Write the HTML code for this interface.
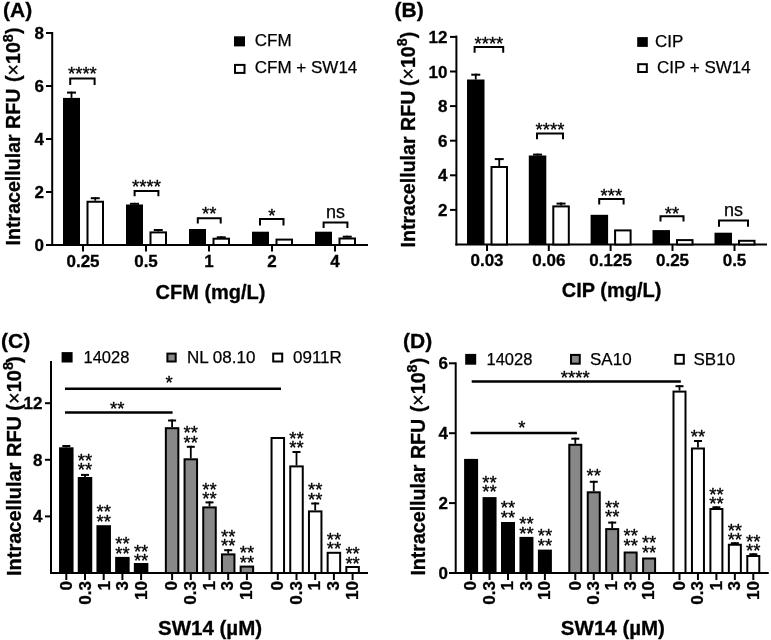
<!DOCTYPE html><html><head><meta charset="utf-8"><style>html,body{margin:0;padding:0;background:#fff;}svg{display:block;will-change:transform;}text[font-weight=bold]{stroke:#000;stroke-width:0.3px;}text[font-weight=normal]{stroke:#000;stroke-width:0.25px;}text.st{stroke:#000;stroke-width:0.35px;stroke-linejoin:round;}text{font-family:"Liberation Sans",sans-serif;fill:#000;}</style></head><body>
<svg width="771" height="640" viewBox="0 0 771 640">
<rect width="771" height="640" fill="#fff"/>
<text x="3.00" y="17.00" font-size="21" font-weight="bold" text-anchor="start" >(A)</text>
<line x1="52.20" y1="32.00" x2="52.20" y2="246.00" stroke="#000" stroke-width="2"/>
<line x1="51.20" y1="245.00" x2="368.00" y2="245.00" stroke="#000" stroke-width="2"/>
<line x1="46.00" y1="245.00" x2="52.20" y2="245.00" stroke="#000" stroke-width="2"/>
<text x="44.00" y="251.00" font-size="17" font-weight="bold" text-anchor="end" >0</text>
<line x1="46.00" y1="192.00" x2="52.20" y2="192.00" stroke="#000" stroke-width="2"/>
<text x="44.00" y="198.00" font-size="17" font-weight="bold" text-anchor="end" >2</text>
<line x1="46.00" y1="139.00" x2="52.20" y2="139.00" stroke="#000" stroke-width="2"/>
<text x="44.00" y="145.00" font-size="17" font-weight="bold" text-anchor="end" >4</text>
<line x1="46.00" y1="86.00" x2="52.20" y2="86.00" stroke="#000" stroke-width="2"/>
<text x="44.00" y="92.00" font-size="17" font-weight="bold" text-anchor="end" >6</text>
<line x1="46.00" y1="33.00" x2="52.20" y2="33.00" stroke="#000" stroke-width="2"/>
<text x="44.00" y="39.00" font-size="17" font-weight="bold" text-anchor="end" >8</text>
<rect x="63.00" y="97.90" width="17.00" height="147.10" fill="#000"/>
<line x1="71.50" y1="97.90" x2="71.50" y2="91.60" stroke="#000" stroke-width="1.8"/>
<line x1="67.00" y1="92.60" x2="76.00" y2="92.60" stroke="#000" stroke-width="2"/>
<rect x="87.50" y="201.75" width="15.50" height="43.25" fill="#fff" stroke="#000" stroke-width="2"/>
<line x1="95.25" y1="200.75" x2="95.25" y2="197.20" stroke="#000" stroke-width="1.8"/>
<line x1="90.75" y1="198.20" x2="99.75" y2="198.20" stroke="#000" stroke-width="2"/>
<line x1="83.00" y1="245.00" x2="83.00" y2="251.50" stroke="#000" stroke-width="2"/>
<text x="83.00" y="266.50" font-size="17" font-weight="bold" text-anchor="middle" >0.25</text>
<rect x="126.00" y="204.50" width="17.00" height="40.50" fill="#000"/>
<line x1="134.50" y1="204.50" x2="134.50" y2="202.80" stroke="#000" stroke-width="1.8"/>
<line x1="130.00" y1="203.80" x2="139.00" y2="203.80" stroke="#000" stroke-width="2"/>
<rect x="150.50" y="232.40" width="15.50" height="12.60" fill="#fff" stroke="#000" stroke-width="2"/>
<line x1="158.25" y1="231.40" x2="158.25" y2="229.00" stroke="#000" stroke-width="1.8"/>
<line x1="153.75" y1="230.00" x2="162.75" y2="230.00" stroke="#000" stroke-width="2"/>
<line x1="146.00" y1="245.00" x2="146.00" y2="251.50" stroke="#000" stroke-width="2"/>
<text x="146.00" y="266.50" font-size="17" font-weight="bold" text-anchor="middle" >0.5</text>
<rect x="189.00" y="229.00" width="17.00" height="16.00" fill="#000"/>
<rect x="213.50" y="238.70" width="15.50" height="6.30" fill="#fff" stroke="#000" stroke-width="2"/>
<line x1="221.25" y1="237.70" x2="221.25" y2="236.30" stroke="#000" stroke-width="1.8"/>
<line x1="216.75" y1="237.30" x2="225.75" y2="237.30" stroke="#000" stroke-width="2"/>
<line x1="209.00" y1="245.00" x2="209.00" y2="251.50" stroke="#000" stroke-width="2"/>
<text x="209.00" y="266.50" font-size="17" font-weight="bold" text-anchor="middle" >1</text>
<rect x="252.00" y="231.70" width="17.00" height="13.30" fill="#000"/>
<rect x="276.50" y="239.60" width="15.50" height="5.40" fill="#fff" stroke="#000" stroke-width="2"/>
<line x1="272.00" y1="245.00" x2="272.00" y2="251.50" stroke="#000" stroke-width="2"/>
<text x="272.00" y="266.50" font-size="17" font-weight="bold" text-anchor="middle" >2</text>
<rect x="315.00" y="231.70" width="17.00" height="13.30" fill="#000"/>
<rect x="339.50" y="238.50" width="15.50" height="6.50" fill="#fff" stroke="#000" stroke-width="2"/>
<line x1="347.25" y1="237.50" x2="347.25" y2="235.70" stroke="#000" stroke-width="1.8"/>
<line x1="342.75" y1="236.70" x2="351.75" y2="236.70" stroke="#000" stroke-width="2"/>
<line x1="335.00" y1="245.00" x2="335.00" y2="251.50" stroke="#000" stroke-width="2"/>
<text x="335.00" y="266.50" font-size="17" font-weight="bold" text-anchor="middle" >4</text>
<path d="M70.20 84.90V78.60H94.60V84.90" fill="none" stroke="#000" stroke-width="2"/>
<text x="82.40" y="80.10" font-size="18.5" font-weight="normal" text-anchor="middle"  class="st">****</text>
<path d="M134.60 196.30V191.00H158.40V196.30" fill="none" stroke="#000" stroke-width="2"/>
<text x="146.50" y="193.00" font-size="18.5" font-weight="normal" text-anchor="middle"  class="st">****</text>
<path d="M197.80 223.60V218.20H220.70V223.60" fill="none" stroke="#000" stroke-width="2"/>
<text x="209.25" y="219.70" font-size="18.5" font-weight="normal" text-anchor="middle"  class="st">**</text>
<path d="M260.00 225.40V219.00H283.50V225.40" fill="none" stroke="#000" stroke-width="2"/>
<text x="271.75" y="222.40" font-size="18.5" font-weight="normal" text-anchor="middle"  class="st">*</text>
<path d="M323.60 228.00V222.40H347.40V228.00" fill="none" stroke="#000" stroke-width="2"/>
<text x="335.50" y="217.60" font-size="18" font-weight="normal" text-anchor="middle" >ns</text>
<text x="210.50" y="299.00" font-size="20" font-weight="bold" text-anchor="middle" >CFM (mg/L)</text>
<text transform="translate(20.00,245.40) rotate(-90)" font-size="19.6" font-weight="bold">Intracellular RFU<tspan dx="1.2"> (</tspan><tspan font-weight="normal">×</tspan>10<tspan font-size="14.5" dx="0" dy="-7.5">8</tspan><tspan dx="0" dy="7.5">)</tspan></text>
<rect x="234.00" y="36.30" width="11.00" height="10.10" fill="#000"/>
<rect x="235" y="64.9" width="9.5" height="8" fill="#fff" stroke="#000" stroke-width="2"/>
<text x="254.80" y="46.00" font-size="17" font-weight="normal" text-anchor="start" >CFM</text>
<text x="254.80" y="73.00" font-size="17" font-weight="normal" text-anchor="start" >CFM + SW14</text>
<text x="394.50" y="17.00" font-size="21" font-weight="bold" text-anchor="start" >(B)</text>
<line x1="456.40" y1="35.60" x2="456.40" y2="245.50" stroke="#000" stroke-width="2"/>
<line x1="455.40" y1="244.50" x2="767.00" y2="244.50" stroke="#000" stroke-width="2"/>
<line x1="450.00" y1="209.90" x2="456.40" y2="209.90" stroke="#000" stroke-width="2"/>
<text x="447.50" y="215.90" font-size="17" font-weight="bold" text-anchor="end" >2</text>
<line x1="450.00" y1="175.30" x2="456.40" y2="175.30" stroke="#000" stroke-width="2"/>
<text x="447.50" y="181.30" font-size="17" font-weight="bold" text-anchor="end" >4</text>
<line x1="450.00" y1="140.70" x2="456.40" y2="140.70" stroke="#000" stroke-width="2"/>
<text x="447.50" y="146.70" font-size="17" font-weight="bold" text-anchor="end" >6</text>
<line x1="450.00" y1="106.10" x2="456.40" y2="106.10" stroke="#000" stroke-width="2"/>
<text x="447.50" y="112.10" font-size="17" font-weight="bold" text-anchor="end" >8</text>
<line x1="450.00" y1="71.50" x2="456.40" y2="71.50" stroke="#000" stroke-width="2"/>
<text x="447.50" y="77.50" font-size="17" font-weight="bold" text-anchor="end" >10</text>
<line x1="450.00" y1="36.90" x2="456.40" y2="36.90" stroke="#000" stroke-width="2"/>
<text x="447.50" y="42.90" font-size="17" font-weight="bold" text-anchor="end" >12</text>
<rect x="467.00" y="79.50" width="17.50" height="165.00" fill="#000"/>
<line x1="475.75" y1="79.50" x2="475.75" y2="73.70" stroke="#000" stroke-width="1.8"/>
<line x1="471.25" y1="74.70" x2="480.25" y2="74.70" stroke="#000" stroke-width="2"/>
<rect x="491.50" y="167.00" width="15.50" height="77.50" fill="#fff" stroke="#000" stroke-width="2"/>
<line x1="499.25" y1="166.00" x2="499.25" y2="158.10" stroke="#000" stroke-width="1.8"/>
<line x1="494.75" y1="159.10" x2="503.75" y2="159.10" stroke="#000" stroke-width="2"/>
<line x1="487.00" y1="244.50" x2="487.00" y2="251.00" stroke="#000" stroke-width="2"/>
<text x="487.00" y="266.00" font-size="17" font-weight="bold" text-anchor="middle" >0.03</text>
<rect x="528.80" y="155.50" width="17.50" height="89.00" fill="#000"/>
<line x1="537.55" y1="155.50" x2="537.55" y2="153.60" stroke="#000" stroke-width="1.8"/>
<line x1="533.05" y1="154.60" x2="542.05" y2="154.60" stroke="#000" stroke-width="2"/>
<rect x="553.30" y="206.40" width="15.50" height="38.10" fill="#fff" stroke="#000" stroke-width="2"/>
<line x1="561.05" y1="205.40" x2="561.05" y2="202.60" stroke="#000" stroke-width="1.8"/>
<line x1="556.55" y1="203.60" x2="565.55" y2="203.60" stroke="#000" stroke-width="2"/>
<line x1="548.80" y1="244.50" x2="548.80" y2="251.00" stroke="#000" stroke-width="2"/>
<text x="548.80" y="266.00" font-size="17" font-weight="bold" text-anchor="middle" >0.06</text>
<rect x="590.60" y="214.80" width="17.50" height="29.70" fill="#000"/>
<rect x="615.10" y="230.40" width="15.50" height="14.10" fill="#fff" stroke="#000" stroke-width="2"/>
<line x1="610.60" y1="244.50" x2="610.60" y2="251.00" stroke="#000" stroke-width="2"/>
<text x="610.60" y="266.00" font-size="17" font-weight="bold" text-anchor="middle" >0.125</text>
<rect x="652.50" y="230.10" width="17.50" height="14.40" fill="#000"/>
<rect x="677.00" y="240.10" width="15.50" height="4.40" fill="#fff" stroke="#000" stroke-width="2"/>
<line x1="672.50" y1="244.50" x2="672.50" y2="251.00" stroke="#000" stroke-width="2"/>
<text x="672.50" y="266.00" font-size="17" font-weight="bold" text-anchor="middle" >0.25</text>
<rect x="714.50" y="232.70" width="17.50" height="11.80" fill="#000"/>
<rect x="739.00" y="240.80" width="15.50" height="3.70" fill="#fff" stroke="#000" stroke-width="2"/>
<line x1="734.50" y1="244.50" x2="734.50" y2="251.00" stroke="#000" stroke-width="2"/>
<text x="734.50" y="266.00" font-size="17" font-weight="bold" text-anchor="middle" >0.5</text>
<path d="M474.60 52.70V47.00H503.20V52.70" fill="none" stroke="#000" stroke-width="2"/>
<text x="488.90" y="50.40" font-size="18.5" font-weight="normal" text-anchor="middle"  class="st">****</text>
<path d="M537.00 139.20V133.40H563.00V139.20" fill="none" stroke="#000" stroke-width="2"/>
<text x="550.00" y="136.30" font-size="18.5" font-weight="normal" text-anchor="middle"  class="st">****</text>
<path d="M599.20 204.60V198.90H623.60V204.60" fill="none" stroke="#000" stroke-width="2"/>
<text x="611.40" y="201.80" font-size="18.5" font-weight="normal" text-anchor="middle"  class="st">***</text>
<path d="M660.50 221.60V216.30H683.50V221.60" fill="none" stroke="#000" stroke-width="2"/>
<text x="672.00" y="219.90" font-size="18.5" font-weight="normal" text-anchor="middle"  class="st">**</text>
<path d="M719.00 226.70V220.40H748.00V226.70" fill="none" stroke="#000" stroke-width="2"/>
<text x="733.50" y="215.80" font-size="18" font-weight="normal" text-anchor="middle" >ns</text>
<text x="611.60" y="297.00" font-size="20" font-weight="bold" text-anchor="middle" >CIP (mg/L)</text>
<text transform="translate(414.50,247.50) rotate(-90)" font-size="19.6" font-weight="bold">Intracellular RFU<tspan dx="-0.8"> (</tspan><tspan font-weight="normal">×</tspan>10<tspan font-size="14.5" dx="0" dy="-7.5">8</tspan><tspan dx="0" dy="7.5">)</tspan></text>
<rect x="637.20" y="37.10" width="10.60" height="9.80" fill="#000"/>
<rect x="638.2" y="64.2" width="8.6" height="7.8" fill="#fff" stroke="#000" stroke-width="2"/>
<text x="655.00" y="46.50" font-size="17" font-weight="normal" text-anchor="start" >CIP</text>
<text x="657.00" y="73.00" font-size="17" font-weight="normal" text-anchor="start" >CIP + SW14</text>
<text x="1.00" y="348.00" font-size="21" font-weight="bold" text-anchor="start" >(C)</text>
<line x1="51.00" y1="361.00" x2="51.00" y2="574.00" stroke="#000" stroke-width="2"/>
<line x1="50.00" y1="573.00" x2="368.00" y2="573.00" stroke="#000" stroke-width="2"/>
<line x1="45.00" y1="516.40" x2="51.00" y2="516.40" stroke="#000" stroke-width="2"/>
<text x="42.50" y="522.40" font-size="17" font-weight="bold" text-anchor="end" >4</text>
<line x1="45.00" y1="459.80" x2="51.00" y2="459.80" stroke="#000" stroke-width="2"/>
<text x="42.50" y="465.80" font-size="17" font-weight="bold" text-anchor="end" >8</text>
<line x1="45.00" y1="403.20" x2="51.00" y2="403.20" stroke="#000" stroke-width="2"/>
<text x="42.50" y="409.20" font-size="17" font-weight="bold" text-anchor="end" >12</text>
<rect x="59.05" y="447.30" width="14.50" height="125.70" fill="#000"/>
<line x1="66.30" y1="447.30" x2="66.30" y2="445.00" stroke="#000" stroke-width="1.8"/>
<line x1="62.30" y1="446.00" x2="70.30" y2="446.00" stroke="#000" stroke-width="2"/>
<line x1="66.30" y1="573.00" x2="66.30" y2="580.00" stroke="#000" stroke-width="2"/>
<text transform="translate(72.30,581.00) rotate(-90)" font-size="17" font-weight="bold" text-anchor="end">0</text>
<rect x="77.75" y="477.00" width="14.50" height="96.00" fill="#000"/>
<line x1="85.00" y1="477.00" x2="85.00" y2="473.90" stroke="#000" stroke-width="1.8"/>
<line x1="81.00" y1="474.90" x2="89.00" y2="474.90" stroke="#000" stroke-width="2"/>
<line x1="85.00" y1="573.00" x2="85.00" y2="580.00" stroke="#000" stroke-width="2"/>
<text transform="translate(91.00,581.00) rotate(-90)" font-size="17" font-weight="bold" text-anchor="end">0.3</text>
<text x="85.00" y="476.20" font-size="18.5" font-weight="normal" text-anchor="middle"  class="st">**</text>
<text x="85.00" y="466.70" font-size="18.5" font-weight="normal" text-anchor="middle"  class="st">**</text>
<rect x="96.45" y="525.20" width="14.50" height="47.80" fill="#000"/>
<line x1="103.70" y1="573.00" x2="103.70" y2="580.00" stroke="#000" stroke-width="2"/>
<text transform="translate(109.70,581.00) rotate(-90)" font-size="17" font-weight="bold" text-anchor="end">1</text>
<text x="103.70" y="527.80" font-size="18.5" font-weight="normal" text-anchor="middle"  class="st">**</text>
<text x="103.70" y="518.30" font-size="18.5" font-weight="normal" text-anchor="middle"  class="st">**</text>
<rect x="115.15" y="556.90" width="14.50" height="16.10" fill="#000"/>
<line x1="122.40" y1="573.00" x2="122.40" y2="580.00" stroke="#000" stroke-width="2"/>
<text transform="translate(128.40,581.00) rotate(-90)" font-size="17" font-weight="bold" text-anchor="end">3</text>
<text x="122.40" y="559.90" font-size="18.5" font-weight="normal" text-anchor="middle"  class="st">**</text>
<text x="122.40" y="550.40" font-size="18.5" font-weight="normal" text-anchor="middle"  class="st">**</text>
<rect x="133.85" y="563.00" width="14.50" height="10.00" fill="#000"/>
<line x1="141.10" y1="573.00" x2="141.10" y2="580.00" stroke="#000" stroke-width="2"/>
<text transform="translate(147.10,581.00) rotate(-90)" font-size="17" font-weight="bold" text-anchor="end">10</text>
<text x="141.10" y="567.15" font-size="18.5" font-weight="normal" text-anchor="middle"  class="st">**</text>
<text x="141.10" y="557.65" font-size="18.5" font-weight="normal" text-anchor="middle"  class="st">**</text>
<rect x="165.85" y="428.20" width="12.50" height="144.80" fill="#888" stroke="#000" stroke-width="2"/>
<line x1="172.10" y1="427.20" x2="172.10" y2="419.50" stroke="#000" stroke-width="1.8"/>
<line x1="168.10" y1="420.50" x2="176.10" y2="420.50" stroke="#000" stroke-width="2"/>
<line x1="172.10" y1="573.00" x2="172.10" y2="580.00" stroke="#000" stroke-width="2"/>
<text transform="translate(177.30,581.00) rotate(-90)" font-size="17" font-weight="bold" text-anchor="end">0</text>
<rect x="184.55" y="459.30" width="12.50" height="113.70" fill="#888" stroke="#000" stroke-width="2"/>
<line x1="190.80" y1="458.30" x2="190.80" y2="445.80" stroke="#000" stroke-width="1.8"/>
<line x1="186.80" y1="446.80" x2="194.80" y2="446.80" stroke="#000" stroke-width="2"/>
<line x1="190.80" y1="573.00" x2="190.80" y2="580.00" stroke="#000" stroke-width="2"/>
<text transform="translate(196.00,581.00) rotate(-90)" font-size="17" font-weight="bold" text-anchor="end">0.3</text>
<text x="190.80" y="448.90" font-size="18.5" font-weight="normal" text-anchor="middle"  class="st">**</text>
<text x="190.80" y="439.40" font-size="18.5" font-weight="normal" text-anchor="middle"  class="st">**</text>
<rect x="203.25" y="507.40" width="12.50" height="65.60" fill="#888" stroke="#000" stroke-width="2"/>
<line x1="209.50" y1="506.40" x2="209.50" y2="501.40" stroke="#000" stroke-width="1.8"/>
<line x1="205.50" y1="502.40" x2="213.50" y2="502.40" stroke="#000" stroke-width="2"/>
<line x1="209.50" y1="573.00" x2="209.50" y2="580.00" stroke="#000" stroke-width="2"/>
<text transform="translate(214.70,581.00) rotate(-90)" font-size="17" font-weight="bold" text-anchor="end">1</text>
<text x="209.50" y="505.30" font-size="18.5" font-weight="normal" text-anchor="middle"  class="st">**</text>
<text x="209.50" y="495.80" font-size="18.5" font-weight="normal" text-anchor="middle"  class="st">**</text>
<rect x="221.95" y="554.40" width="12.50" height="18.60" fill="#888" stroke="#000" stroke-width="2"/>
<line x1="228.20" y1="553.40" x2="228.20" y2="549.20" stroke="#000" stroke-width="1.8"/>
<line x1="224.20" y1="550.20" x2="232.20" y2="550.20" stroke="#000" stroke-width="2"/>
<line x1="228.20" y1="573.00" x2="228.20" y2="580.00" stroke="#000" stroke-width="2"/>
<text transform="translate(233.40,581.00) rotate(-90)" font-size="17" font-weight="bold" text-anchor="end">3</text>
<text x="228.20" y="552.40" font-size="18.5" font-weight="normal" text-anchor="middle"  class="st">**</text>
<text x="228.20" y="542.90" font-size="18.5" font-weight="normal" text-anchor="middle"  class="st">**</text>
<rect x="240.65" y="566.60" width="12.50" height="6.40" fill="#888" stroke="#000" stroke-width="2"/>
<line x1="246.90" y1="573.00" x2="246.90" y2="580.00" stroke="#000" stroke-width="2"/>
<text transform="translate(252.10,581.00) rotate(-90)" font-size="17" font-weight="bold" text-anchor="end">10</text>
<text x="246.90" y="568.90" font-size="18.5" font-weight="normal" text-anchor="middle"  class="st">**</text>
<text x="246.90" y="559.40" font-size="18.5" font-weight="normal" text-anchor="middle"  class="st">**</text>
<rect x="271.55" y="438.00" width="12.50" height="135.00" fill="#fff" stroke="#000" stroke-width="2"/>
<line x1="277.80" y1="573.00" x2="277.80" y2="580.00" stroke="#000" stroke-width="2"/>
<text transform="translate(283.00,581.00) rotate(-90)" font-size="17" font-weight="bold" text-anchor="end">0</text>
<rect x="290.25" y="466.40" width="12.50" height="106.60" fill="#fff" stroke="#000" stroke-width="2"/>
<line x1="296.50" y1="465.40" x2="296.50" y2="451.00" stroke="#000" stroke-width="1.8"/>
<line x1="292.50" y1="452.00" x2="300.50" y2="452.00" stroke="#000" stroke-width="2"/>
<line x1="296.50" y1="573.00" x2="296.50" y2="580.00" stroke="#000" stroke-width="2"/>
<text transform="translate(301.70,581.00) rotate(-90)" font-size="17" font-weight="bold" text-anchor="end">0.3</text>
<text x="296.50" y="454.00" font-size="18.5" font-weight="normal" text-anchor="middle"  class="st">**</text>
<text x="296.50" y="444.50" font-size="18.5" font-weight="normal" text-anchor="middle"  class="st">**</text>
<rect x="308.95" y="511.40" width="12.50" height="61.60" fill="#fff" stroke="#000" stroke-width="2"/>
<line x1="315.20" y1="510.40" x2="315.20" y2="502.50" stroke="#000" stroke-width="1.8"/>
<line x1="311.20" y1="503.50" x2="319.20" y2="503.50" stroke="#000" stroke-width="2"/>
<line x1="315.20" y1="573.00" x2="315.20" y2="580.00" stroke="#000" stroke-width="2"/>
<text transform="translate(320.40,581.00) rotate(-90)" font-size="17" font-weight="bold" text-anchor="end">1</text>
<text x="315.20" y="505.60" font-size="18.5" font-weight="normal" text-anchor="middle"  class="st">**</text>
<text x="315.20" y="496.10" font-size="18.5" font-weight="normal" text-anchor="middle"  class="st">**</text>
<rect x="327.65" y="552.80" width="12.50" height="20.20" fill="#fff" stroke="#000" stroke-width="2"/>
<line x1="333.90" y1="573.00" x2="333.90" y2="580.00" stroke="#000" stroke-width="2"/>
<text transform="translate(339.10,581.00) rotate(-90)" font-size="17" font-weight="bold" text-anchor="end">3</text>
<text x="333.90" y="555.10" font-size="18.5" font-weight="normal" text-anchor="middle"  class="st">**</text>
<text x="333.90" y="545.60" font-size="18.5" font-weight="normal" text-anchor="middle"  class="st">**</text>
<rect x="346.35" y="567.00" width="12.50" height="6.00" fill="#fff" stroke="#000" stroke-width="2"/>
<line x1="352.60" y1="573.00" x2="352.60" y2="580.00" stroke="#000" stroke-width="2"/>
<text transform="translate(357.80,581.00) rotate(-90)" font-size="17" font-weight="bold" text-anchor="end">10</text>
<text x="352.60" y="569.70" font-size="18.5" font-weight="normal" text-anchor="middle"  class="st">**</text>
<text x="352.60" y="560.20" font-size="18.5" font-weight="normal" text-anchor="middle"  class="st">**</text>
<line x1="65.00" y1="388.70" x2="281.00" y2="388.70" stroke="#000" stroke-width="2.5"/>
<text x="169.00" y="389.20" font-size="18.5" font-weight="normal" text-anchor="middle"  class="st">*</text>
<line x1="65.00" y1="412.50" x2="172.60" y2="412.50" stroke="#000" stroke-width="2.5"/>
<text x="117.30" y="414.90" font-size="18.5" font-weight="normal" text-anchor="middle"  class="st">**</text>
<rect x="61.60" y="352.10" width="11.00" height="10.40" fill="#000"/>
<rect x="167.40" y="353.60" width="8.30" height="7.90" fill="#888" stroke="#000" stroke-width="2"/>
<rect x="273.20" y="353.60" width="9.00" height="7.90" fill="#fff" stroke="#000" stroke-width="2"/>
<text x="83.50" y="363.00" font-size="16.5" font-weight="normal" text-anchor="start" >14028</text>
<text x="187.00" y="363.00" font-size="17" font-weight="normal" text-anchor="start" >NL 08.10</text>
<text x="293.00" y="363.00" font-size="17" font-weight="normal" text-anchor="start" >0911R</text>
<text x="210.00" y="634.60" font-size="20.5" font-weight="bold" text-anchor="middle" >SW14 (µM)</text>
<text transform="translate(20.50,576.00) rotate(-90)" font-size="20" font-weight="bold">Intracellular RFU<tspan dx="-0.3"> (</tspan><tspan font-weight="normal">×</tspan>10<tspan font-size="14.5" dx="0" dy="-7.5">8</tspan><tspan dx="-1" dy="7.5">)</tspan></text>
<text x="403.00" y="348.00" font-size="21" font-weight="bold" text-anchor="start" >(D)</text>
<line x1="455.70" y1="362.30" x2="455.70" y2="574.00" stroke="#000" stroke-width="2"/>
<line x1="454.70" y1="573.00" x2="768.75" y2="573.00" stroke="#000" stroke-width="2"/>
<line x1="449.00" y1="573.00" x2="455.70" y2="573.00" stroke="#000" stroke-width="2"/>
<text x="448.00" y="579.00" font-size="17" font-weight="bold" text-anchor="end" >0</text>
<line x1="449.00" y1="503.10" x2="455.70" y2="503.10" stroke="#000" stroke-width="2"/>
<text x="448.00" y="509.10" font-size="17" font-weight="bold" text-anchor="end" >2</text>
<line x1="449.00" y1="433.20" x2="455.70" y2="433.20" stroke="#000" stroke-width="2"/>
<text x="448.00" y="439.20" font-size="17" font-weight="bold" text-anchor="end" >4</text>
<line x1="449.00" y1="363.30" x2="455.70" y2="363.30" stroke="#000" stroke-width="2"/>
<text x="448.00" y="369.30" font-size="17" font-weight="bold" text-anchor="end" >6</text>
<rect x="464.10" y="458.90" width="14.00" height="114.10" fill="#000"/>
<line x1="471.10" y1="573.00" x2="471.10" y2="580.00" stroke="#000" stroke-width="2"/>
<text transform="translate(476.30,581.00) rotate(-90)" font-size="17" font-weight="bold" text-anchor="end">0</text>
<rect x="482.55" y="497.10" width="14.00" height="75.90" fill="#000"/>
<line x1="489.55" y1="573.00" x2="489.55" y2="580.00" stroke="#000" stroke-width="2"/>
<text transform="translate(494.75,581.00) rotate(-90)" font-size="17" font-weight="bold" text-anchor="end">0.3</text>
<text x="489.55" y="498.30" font-size="18.5" font-weight="normal" text-anchor="middle"  class="st">**</text>
<text x="489.55" y="488.80" font-size="18.5" font-weight="normal" text-anchor="middle"  class="st">**</text>
<rect x="501.00" y="522.00" width="14.00" height="51.00" fill="#000"/>
<line x1="508.00" y1="573.00" x2="508.00" y2="580.00" stroke="#000" stroke-width="2"/>
<text transform="translate(513.20,581.00) rotate(-90)" font-size="17" font-weight="bold" text-anchor="end">1</text>
<text x="508.00" y="523.70" font-size="18.5" font-weight="normal" text-anchor="middle"  class="st">**</text>
<text x="508.00" y="514.20" font-size="18.5" font-weight="normal" text-anchor="middle"  class="st">**</text>
<rect x="519.45" y="536.90" width="14.00" height="36.10" fill="#000"/>
<line x1="526.45" y1="573.00" x2="526.45" y2="580.00" stroke="#000" stroke-width="2"/>
<text transform="translate(531.65,581.00) rotate(-90)" font-size="17" font-weight="bold" text-anchor="end">3</text>
<text x="526.45" y="539.50" font-size="18.5" font-weight="normal" text-anchor="middle"  class="st">**</text>
<text x="526.45" y="530.00" font-size="18.5" font-weight="normal" text-anchor="middle"  class="st">**</text>
<rect x="537.90" y="549.60" width="14.00" height="23.40" fill="#000"/>
<line x1="544.90" y1="573.00" x2="544.90" y2="580.00" stroke="#000" stroke-width="2"/>
<text transform="translate(550.10,581.00) rotate(-90)" font-size="17" font-weight="bold" text-anchor="end">10</text>
<text x="544.90" y="551.50" font-size="18.5" font-weight="normal" text-anchor="middle"  class="st">**</text>
<text x="544.90" y="542.00" font-size="18.5" font-weight="normal" text-anchor="middle"  class="st">**</text>
<rect x="569.30" y="444.80" width="12.00" height="128.20" fill="#888" stroke="#000" stroke-width="2"/>
<line x1="575.30" y1="443.80" x2="575.30" y2="437.70" stroke="#000" stroke-width="1.8"/>
<line x1="571.30" y1="438.70" x2="579.30" y2="438.70" stroke="#000" stroke-width="2"/>
<line x1="575.30" y1="573.00" x2="575.30" y2="580.00" stroke="#000" stroke-width="2"/>
<text transform="translate(580.50,581.00) rotate(-90)" font-size="17" font-weight="bold" text-anchor="end">0</text>
<rect x="587.75" y="492.30" width="12.00" height="80.70" fill="#888" stroke="#000" stroke-width="2"/>
<line x1="593.75" y1="491.30" x2="593.75" y2="480.80" stroke="#000" stroke-width="1.8"/>
<line x1="589.75" y1="481.80" x2="597.75" y2="481.80" stroke="#000" stroke-width="2"/>
<line x1="593.75" y1="573.00" x2="593.75" y2="580.00" stroke="#000" stroke-width="2"/>
<text transform="translate(598.95,581.00) rotate(-90)" font-size="17" font-weight="bold" text-anchor="end">0.3</text>
<text x="593.75" y="482.30" font-size="18.5" font-weight="normal" text-anchor="middle"  class="st">**</text>
<rect x="606.20" y="529.10" width="12.00" height="43.90" fill="#888" stroke="#000" stroke-width="2"/>
<line x1="612.20" y1="528.10" x2="612.20" y2="521.60" stroke="#000" stroke-width="1.8"/>
<line x1="608.20" y1="522.60" x2="616.20" y2="522.60" stroke="#000" stroke-width="2"/>
<line x1="612.20" y1="573.00" x2="612.20" y2="580.00" stroke="#000" stroke-width="2"/>
<text transform="translate(617.40,581.00) rotate(-90)" font-size="17" font-weight="bold" text-anchor="end">1</text>
<text x="612.20" y="523.10" font-size="18.5" font-weight="normal" text-anchor="middle"  class="st">**</text>
<text x="612.20" y="513.60" font-size="18.5" font-weight="normal" text-anchor="middle"  class="st">**</text>
<rect x="624.65" y="552.50" width="12.00" height="20.50" fill="#888" stroke="#000" stroke-width="2"/>
<line x1="630.65" y1="573.00" x2="630.65" y2="580.00" stroke="#000" stroke-width="2"/>
<text transform="translate(635.85,581.00) rotate(-90)" font-size="17" font-weight="bold" text-anchor="end">3</text>
<text x="630.65" y="551.50" font-size="18.5" font-weight="normal" text-anchor="middle"  class="st">**</text>
<text x="630.65" y="542.00" font-size="18.5" font-weight="normal" text-anchor="middle"  class="st">**</text>
<rect x="643.10" y="558.50" width="12.00" height="14.50" fill="#888" stroke="#000" stroke-width="2"/>
<line x1="649.10" y1="573.00" x2="649.10" y2="580.00" stroke="#000" stroke-width="2"/>
<text transform="translate(654.30,581.00) rotate(-90)" font-size="17" font-weight="bold" text-anchor="end">10</text>
<text x="649.10" y="558.90" font-size="18.5" font-weight="normal" text-anchor="middle"  class="st">**</text>
<text x="649.10" y="549.40" font-size="18.5" font-weight="normal" text-anchor="middle"  class="st">**</text>
<rect x="673.50" y="391.60" width="12.00" height="181.40" fill="#fff" stroke="#000" stroke-width="2"/>
<line x1="679.50" y1="390.60" x2="679.50" y2="385.20" stroke="#000" stroke-width="1.8"/>
<line x1="675.50" y1="386.20" x2="683.50" y2="386.20" stroke="#000" stroke-width="2"/>
<line x1="679.50" y1="573.00" x2="679.50" y2="580.00" stroke="#000" stroke-width="2"/>
<text transform="translate(684.70,581.00) rotate(-90)" font-size="17" font-weight="bold" text-anchor="end">0</text>
<rect x="691.95" y="448.50" width="12.00" height="124.50" fill="#fff" stroke="#000" stroke-width="2"/>
<line x1="697.95" y1="447.50" x2="697.95" y2="440.00" stroke="#000" stroke-width="1.8"/>
<line x1="693.95" y1="441.00" x2="701.95" y2="441.00" stroke="#000" stroke-width="2"/>
<line x1="697.95" y1="573.00" x2="697.95" y2="580.00" stroke="#000" stroke-width="2"/>
<text transform="translate(703.15,581.00) rotate(-90)" font-size="17" font-weight="bold" text-anchor="end">0.3</text>
<text x="697.95" y="442.90" font-size="18.5" font-weight="normal" text-anchor="middle"  class="st">**</text>
<rect x="710.40" y="509.00" width="12.00" height="64.00" fill="#fff" stroke="#000" stroke-width="2"/>
<line x1="716.40" y1="508.00" x2="716.40" y2="506.30" stroke="#000" stroke-width="1.8"/>
<line x1="712.40" y1="507.30" x2="720.40" y2="507.30" stroke="#000" stroke-width="2"/>
<line x1="716.40" y1="573.00" x2="716.40" y2="580.00" stroke="#000" stroke-width="2"/>
<text transform="translate(721.60,581.00) rotate(-90)" font-size="17" font-weight="bold" text-anchor="end">1</text>
<text x="716.40" y="510.40" font-size="18.5" font-weight="normal" text-anchor="middle"  class="st">**</text>
<text x="716.40" y="500.90" font-size="18.5" font-weight="normal" text-anchor="middle"  class="st">**</text>
<rect x="728.85" y="544.75" width="12.00" height="28.25" fill="#fff" stroke="#000" stroke-width="2"/>
<line x1="734.85" y1="543.75" x2="734.85" y2="542.20" stroke="#000" stroke-width="1.8"/>
<line x1="730.85" y1="543.20" x2="738.85" y2="543.20" stroke="#000" stroke-width="2"/>
<line x1="734.85" y1="573.00" x2="734.85" y2="580.00" stroke="#000" stroke-width="2"/>
<text transform="translate(740.05,581.00) rotate(-90)" font-size="17" font-weight="bold" text-anchor="end">3</text>
<text x="734.85" y="546.40" font-size="18.5" font-weight="normal" text-anchor="middle"  class="st">**</text>
<text x="734.85" y="536.90" font-size="18.5" font-weight="normal" text-anchor="middle"  class="st">**</text>
<rect x="747.30" y="556.00" width="12.00" height="17.00" fill="#fff" stroke="#000" stroke-width="2"/>
<line x1="753.30" y1="555.00" x2="753.30" y2="553.25" stroke="#000" stroke-width="1.8"/>
<line x1="749.30" y1="554.25" x2="757.30" y2="554.25" stroke="#000" stroke-width="2"/>
<line x1="753.30" y1="573.00" x2="753.30" y2="580.00" stroke="#000" stroke-width="2"/>
<text transform="translate(758.50,581.00) rotate(-90)" font-size="17" font-weight="bold" text-anchor="end">10</text>
<text x="753.30" y="557.15" font-size="18.5" font-weight="normal" text-anchor="middle"  class="st">**</text>
<text x="753.30" y="547.65" font-size="18.5" font-weight="normal" text-anchor="middle"  class="st">**</text>
<line x1="471.70" y1="381.40" x2="680.80" y2="381.40" stroke="#000" stroke-width="2.5"/>
<text x="575.20" y="383.90" font-size="18.5" font-weight="normal" text-anchor="middle"  class="st">****</text>
<line x1="470.60" y1="433.00" x2="576.90" y2="433.00" stroke="#000" stroke-width="2.5"/>
<text x="521.80" y="434.30" font-size="18.5" font-weight="normal" text-anchor="middle"  class="st">*</text>
<rect x="465.20" y="353.90" width="11.00" height="10.80" fill="#000"/>
<rect x="571.00" y="354.90" width="8.75" height="8.80" fill="#888" stroke="#000" stroke-width="2"/>
<rect x="675.40" y="354.90" width="8.40" height="8.80" fill="#fff" stroke="#000" stroke-width="2"/>
<text x="486.50" y="364.50" font-size="16.5" font-weight="normal" text-anchor="start" >14028</text>
<text x="590.00" y="364.50" font-size="17" font-weight="normal" text-anchor="start" >SA10</text>
<text x="693.50" y="364.50" font-size="17" font-weight="normal" text-anchor="start" >SB10</text>
<text x="612.90" y="634.60" font-size="20.5" font-weight="bold" text-anchor="middle" >SW14 (µM)</text>
<text transform="translate(424.70,575.60) rotate(-90)" font-size="19.6" font-weight="bold">Intracellular RFU<tspan dx="1.2"> (</tspan><tspan font-weight="normal">×</tspan>10<tspan font-size="14.5" dx="0" dy="-7.5">8</tspan><tspan dx="0" dy="7.5">)</tspan></text>
</svg></body></html>
